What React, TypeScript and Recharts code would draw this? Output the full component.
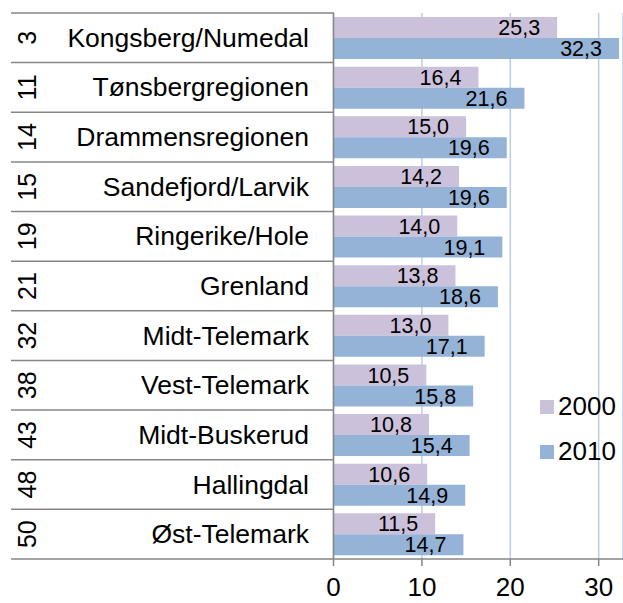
import { BarChart, Bar, XAxis, YAxis, CartesianGrid, LabelList } from 'recharts';

const regions = [
  'Kongsberg/Numedal',
  'Tønsbergregionen',
  'Drammensregionen',
  'Sandefjord/Larvik',
  'Ringerike/Hole',
  'Grenland',
  'Midt-Telemark',
  'Vest-Telemark',
  'Midt-Buskerud',
  'Hallingdal',
  'Øst-Telemark',
];
const ranks = [3, 11, 14, 15, 19, 21, 32, 38, 43, 48, 50];
const values2000 = [25.3, 16.4, 15.0, 14.2, 14.0, 13.8, 13.0, 10.5, 10.8, 10.6, 11.5];
const values2010 = [32.3, 21.6, 19.6, 19.6, 19.1, 18.6, 17.1, 15.8, 15.4, 14.9, 14.7];
const xTicks = [0, 10, 20, 30];

const FONT = '"Liberation Sans", Arial, sans-serif';
const LINE = '#868686';
const C2000 = '#CCC1DA';
const C2010 = '#95B3D7';

const data = regions.map((name, i) => ({
  name,
  rank: ranks[i],
  y2000: values2000[i],
  y2010: values2010[i],
}));

const fmt = (v: any) => Number(v).toFixed(1).replace('.', ',');

// category label: region name + rotated rank, with row separator lines
const CategoryTick = (props: any) => {
  const { y, index, payload } = props;
  const band = 49.6;
  const row = data[index] ?? data.find((d) => d.name === payload.value);
  return (
    <g>
      {index === 0 && <line x1={11} x2={334} y1={y - band / 2} y2={y - band / 2} stroke={LINE} strokeWidth={1.5} />}
      <line x1={11} x2={334} y1={y + band / 2} y2={y + band / 2} stroke={LINE} strokeWidth={1.5} />
      <text x={309} y={y} dy={9} textAnchor="end" fontSize={26.5} fontFamily={FONT} fill="#000">
        {payload.value}
      </text>
      <text
        x={0}
        y={0}
        transform={`translate(36, ${y}) rotate(-90)`}
        textAnchor="middle"
        fontSize={25}
        fontFamily={FONT}
        fill="#000"
      >
        {row ? row.rank : ''}
      </text>
    </g>
  );
};

const legendItems = [
  { label: '2000', color: C2000 },
  { label: '2010', color: C2010 },
];

export default function App() {
  return (
    <div style={{ position: 'absolute', left: 0, top: 0, width: 623, height: 603 }}>
      <BarChart
        width={623}
        height={603}
        data={data}
        layout="vertical"
        margin={{ top: 13, right: 0, bottom: 0, left: 0 }}
        barSize={21}
        barGap={0}
      >
        <CartesianGrid horizontal={false} vertical stroke="#B9CDE5" strokeWidth={1.5} />
        <XAxis
          type="number"
          domain={[0, 32.75]}
          ticks={xTicks}
          allowDataOverflow
          height={44}
          axisLine={{ stroke: LINE, strokeWidth: 1.5 }}
          tickLine={{ stroke: LINE, strokeWidth: 1.5 }}
          tickSize={7}
          tick={{ fontSize: 26, fontFamily: FONT, fill: '#000', dy: 10 }}
        />
        <YAxis
          type="category"
          dataKey="name"
          width={333.5}
          axisLine={{ stroke: LINE, strokeWidth: 1.5 }}
          tickLine={false}
          interval={0}
          tick={<CategoryTick />}
        />
        <Bar dataKey="y2000" fill={C2000} isAnimationActive={false}>
          <LabelList
            dataKey="y2000"
            position="insideRight"
            offset={17}
            formatter={fmt}
            style={{ fontSize: 21.5, fontFamily: FONT, fill: '#000' }}
          />
        </Bar>
        <Bar dataKey="y2010" fill={C2010} isAnimationActive={false}>
          <LabelList
            dataKey="y2010"
            position="insideRight"
            offset={17}
            formatter={fmt}
            style={{ fontSize: 21.5, fontFamily: FONT, fill: '#000' }}
          />
        </Bar>
      </BarChart>
      <div style={{ position: 'absolute', left: 540, top: 384, fontFamily: FONT, fontSize: 26, color: '#000' }}>
        {legendItems.map((it) => (
          <div key={it.label} style={{ display: 'flex', alignItems: 'center', height: 45 }}>
            <span style={{ display: 'inline-block', width: 14, height: 14, background: it.color, marginRight: 4 }} />
            <span>{it.label}</span>
          </div>
        ))}
      </div>
    </div>
  );
}
